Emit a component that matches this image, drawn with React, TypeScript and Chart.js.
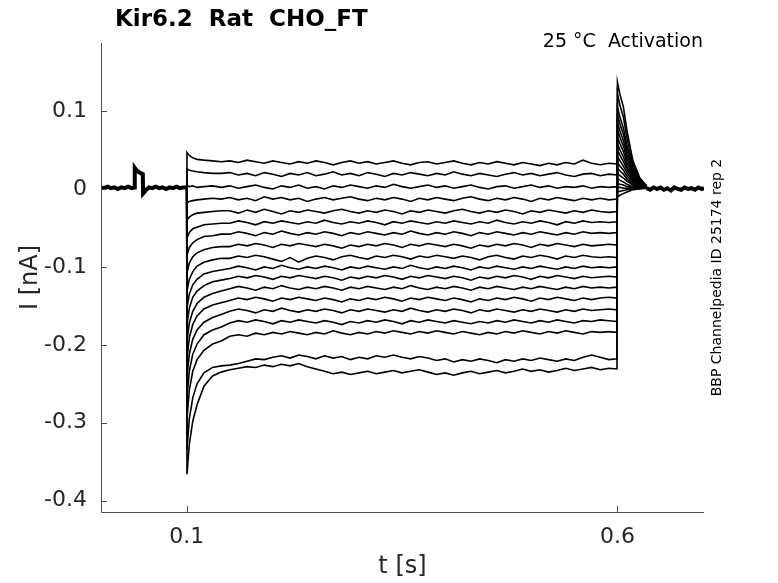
import React, { useEffect, useRef } from 'react';
import { Chart, registerables } from 'chart.js';

Chart.register(...registerables);

// ---- axis / tick data ----
const xTickValues = [0.1, 0.6];
const xTickLabels = ['0.1', '0.6'];
const yTickValues = [0.1, 0, -0.1, -0.2, -0.3, -0.4];
const yTickLabels = ['0.1', '0', '-0.1', '-0.2', '-0.3', '-0.4'];
const xRange = [0.0005, 0.7005];
const yRange = [-0.4145, 0.1873];

// ---- holding segment (shared by all sweeps) ----
const holdTimes = [0.0005, 0.004, 0.008, 0.012, 0.016, 0.02, 0.024, 0.028, 0.032, 0.036, 0.0395, 0.0397, 0.041, 0.043, 0.045, 0.047, 0.049, 0.0494, 0.051, 0.053, 0.056, 0.06, 0.064, 0.068, 0.072, 0.076, 0.08, 0.084, 0.088, 0.092, 0.096, 0.1];
const holdValues = [0.002, 0.001, 0.003, 0.001, 0.002, 0.0, 0.002, 0.001, 0.003, 0.001, 0.002, 0.027, 0.025, 0.023, 0.021, 0.02, 0.019, -0.006, -0.004, -0.001, 0.002, 0.001, 0.003, 0.001, 0.002, 0.0, 0.002, 0.001, 0.003, 0.001, 0.002, 0.002];

// ---- after-tail segment (shared) ----
const postTimes = [0.634, 0.638, 0.642, 0.646, 0.65, 0.654, 0.658, 0.662, 0.666, 0.67, 0.674, 0.678, 0.682, 0.686, 0.69, 0.694, 0.698, 0.7005];
const postValues = [0.001, -0.001, 0.002, 0.0, 0.002, -0.001, 0.001, -0.002, 0.002, 0.0, -0.001, 0.002, 0.0, 0.001, -0.001, 0.002, 0.0, 0.001];

// ---- step sweeps ----
const transientTimes = [0.1, 0.1003, 0.103, 0.107, 0.112, 0.12, 0.13, 0.14];
const steadyTimes = [
  0.15, 0.16, 0.17, 0.18, 0.19, 0.2, 0.21, 0.22, 0.23, 0.24, 0.25, 0.26, 0.27, 0.28, 0.29,
  0.3, 0.31, 0.32, 0.33, 0.34, 0.35, 0.36, 0.37, 0.38, 0.39, 0.4, 0.41, 0.42, 0.43, 0.44,
  0.45, 0.46, 0.47, 0.48, 0.49, 0.5, 0.51, 0.52, 0.53, 0.54, 0.55, 0.56, 0.57, 0.58, 0.59, 0.5995,
];
const tailTimes = [0.6, 0.603, 0.607, 0.611, 0.618, 0.626, 0.634];

const transientValues = [
  [0.001, 0.047, 0.043, 0.04, 0.038, 0.037, 0.036, 0.035],
  [0.001, 0.026, 0.024, 0.023, 0.022, 0.021, 0.02, 0.02],
  [0.001, 0.004, 0.003, 0.004, 0.002, 0.003, 0.004, 0.002],
  [0.001, -0.018, -0.016, -0.015, -0.014, -0.013, -0.012, -0.013],
  [0.001, -0.04, -0.036, -0.033, -0.031, -0.03, -0.029, -0.028],
  [0.001, -0.063, -0.056, -0.051, -0.049, -0.046, -0.045, -0.044],
  [0.001, -0.085, -0.075, -0.069, -0.065, -0.061, -0.06, -0.058],
  [0.001, -0.108, -0.095, -0.087, -0.082, -0.078, -0.075, -0.074],
  [0.001, -0.131, -0.116, -0.106, -0.099, -0.094, -0.091, -0.089],
  [0.001, -0.153, -0.135, -0.123, -0.116, -0.109, -0.106, -0.104],
  [0.001, -0.174, -0.153, -0.139, -0.131, -0.124, -0.119, -0.117],
  [0.001, -0.196, -0.172, -0.157, -0.147, -0.139, -0.134, -0.131],
  [0.001, -0.218, -0.191, -0.174, -0.163, -0.154, -0.149, -0.146],
  [0.001, -0.242, -0.212, -0.193, -0.181, -0.171, -0.165, -0.161],
  [0.001, -0.267, -0.234, -0.212, -0.199, -0.187, -0.181, -0.177],
  [0.001, -0.295, -0.258, -0.234, -0.219, -0.207, -0.199, -0.195],
  [0.001, -0.335, -0.295, -0.268, -0.25, -0.236, -0.229, -0.227],
  [0.001, -0.366, -0.328, -0.298, -0.277, -0.253, -0.24, -0.235],
];

const steadyValues = [
  [0.036, 0.034, 0.037, 0.035, 0.033, 0.036, 0.034, 0.032, 0.035, 0.033, 0.036, 0.034, 0.031, 0.034, 0.036,
   0.033, 0.035, 0.032, 0.034, 0.036, 0.033, 0.031, 0.034, 0.035, 0.032, 0.034, 0.036, 0.033, 0.031, 0.034,
   0.032, 0.035, 0.033, 0.031, 0.034, 0.032, 0.03, 0.033, 0.031, 0.034, 0.032, 0.037, 0.033, 0.031, 0.033, 0.032],
  [0.021, 0.018, 0.02, 0.017, 0.021, 0.019, 0.016, 0.02, 0.018, 0.021, 0.017, 0.019, 0.022, 0.018, 0.02,
   0.017, 0.021, 0.019, 0.016, 0.02, 0.018, 0.021, 0.019, 0.017, 0.02, 0.018, 0.022, 0.019, 0.017, 0.02,
   0.018, 0.016, 0.019, 0.021, 0.018, 0.02, 0.017, 0.019, 0.021, 0.018, 0.016, 0.019, 0.02, 0.017, 0.019, 0.018],
  [0.004, 0.001, 0.003, 0.005, 0.002, 0.0, 0.004, 0.002, 0.005, 0.001, 0.003, 0.0, 0.004, 0.002, 0.005,
   0.003, 0.001, 0.004, 0.002, 0.006, 0.003, 0.001, 0.003, 0.005, 0.002, 0.004, 0.001, 0.003, 0.005, 0.002,
   0.0, 0.003, 0.004, 0.001, 0.003, 0.005, 0.002, 0.004, 0.001, 0.003, 0.002, 0.004, 0.001, 0.003, 0.002, 0.003],
  [-0.011, -0.014, -0.012, -0.015, -0.01, -0.013, -0.011, -0.014, -0.012, -0.016, -0.013, -0.011, -0.014, -0.012, -0.01,
   -0.013, -0.015, -0.012, -0.014, -0.011, -0.013, -0.016, -0.012, -0.014, -0.011, -0.013, -0.015, -0.012, -0.01, -0.013,
   -0.015, -0.012, -0.014, -0.011, -0.013, -0.016, -0.012, -0.014, -0.011, -0.013, -0.015, -0.012, -0.014, -0.012, -0.014, -0.013],
  [-0.028, -0.031, -0.027, -0.03, -0.026, -0.029, -0.032, -0.028, -0.03, -0.027, -0.029, -0.031, -0.028, -0.026, -0.029,
   -0.031, -0.028, -0.03, -0.027, -0.029, -0.032, -0.028, -0.03, -0.027, -0.029, -0.031, -0.028, -0.026, -0.029, -0.031,
   -0.028, -0.03, -0.027, -0.029, -0.032, -0.028, -0.03, -0.027, -0.029, -0.031, -0.028, -0.03, -0.027, -0.029, -0.03, -0.029],
  [-0.044, -0.041, -0.043, -0.046, -0.042, -0.044, -0.041, -0.043, -0.045, -0.042, -0.044, -0.04, -0.043, -0.045, -0.042,
   -0.044, -0.041, -0.043, -0.046, -0.042, -0.044, -0.041, -0.043, -0.045, -0.042, -0.044, -0.041, -0.043, -0.045, -0.042,
   -0.044, -0.04, -0.043, -0.045, -0.042, -0.044, -0.041, -0.043, -0.046, -0.042, -0.044, -0.041, -0.043, -0.042, -0.043, -0.042],
  [-0.058, -0.055, -0.057, -0.06, -0.056, -0.058, -0.054, -0.057, -0.059, -0.056, -0.058, -0.055, -0.057, -0.06, -0.056,
   -0.058, -0.055, -0.057, -0.059, -0.056, -0.058, -0.054, -0.057, -0.059, -0.056, -0.058, -0.055, -0.057, -0.06, -0.056,
   -0.058, -0.055, -0.057, -0.059, -0.056, -0.058, -0.055, -0.057, -0.059, -0.056, -0.058, -0.055, -0.057, -0.056, -0.057, -0.056],
  [-0.074, -0.071, -0.073, -0.07, -0.072, -0.075, -0.071, -0.073, -0.07, -0.072, -0.074, -0.071, -0.073, -0.076, -0.072,
   -0.074, -0.071, -0.073, -0.07, -0.072, -0.075, -0.071, -0.073, -0.07, -0.072, -0.074, -0.071, -0.073, -0.076, -0.072,
   -0.074, -0.071, -0.073, -0.07, -0.072, -0.075, -0.071, -0.073, -0.07, -0.072, -0.074, -0.071, -0.073, -0.072, -0.071, -0.072],
  [-0.089, -0.086, -0.088, -0.085, -0.087, -0.09, -0.093, -0.088, -0.094, -0.089, -0.086, -0.088, -0.091, -0.087, -0.085,
   -0.088, -0.09, -0.086, -0.088, -0.085, -0.087, -0.09, -0.086, -0.088, -0.085, -0.087, -0.089, -0.086, -0.088, -0.091,
   -0.087, -0.085, -0.088, -0.09, -0.086, -0.088, -0.085, -0.087, -0.09, -0.086, -0.088, -0.085, -0.087, -0.088, -0.087, -0.088],
  [-0.102, -0.099, -0.101, -0.104, -0.1, -0.102, -0.098, -0.101, -0.103, -0.1, -0.102, -0.099, -0.101, -0.104, -0.1,
   -0.102, -0.099, -0.101, -0.103, -0.1, -0.102, -0.098, -0.101, -0.103, -0.1, -0.102, -0.099, -0.101, -0.104, -0.1,
   -0.102, -0.099, -0.101, -0.103, -0.1, -0.102, -0.099, -0.101, -0.103, -0.1, -0.102, -0.099, -0.101, -0.1, -0.101, -0.1],
  [-0.115, -0.112, -0.114, -0.111, -0.113, -0.116, -0.112, -0.114, -0.111, -0.113, -0.115, -0.112, -0.114, -0.117, -0.113,
   -0.115, -0.112, -0.114, -0.111, -0.113, -0.116, -0.112, -0.114, -0.111, -0.113, -0.115, -0.112, -0.114, -0.117, -0.113,
   -0.115, -0.112, -0.114, -0.111, -0.113, -0.116, -0.112, -0.114, -0.111, -0.113, -0.115, -0.112, -0.114, -0.113, -0.112, -0.113],
  [-0.128, -0.125, -0.127, -0.13, -0.126, -0.128, -0.124, -0.127, -0.129, -0.126, -0.128, -0.125, -0.127, -0.13, -0.126,
   -0.128, -0.125, -0.127, -0.129, -0.126, -0.128, -0.124, -0.127, -0.129, -0.126, -0.128, -0.125, -0.127, -0.13, -0.126,
   -0.128, -0.125, -0.127, -0.129, -0.126, -0.128, -0.125, -0.127, -0.129, -0.126, -0.128, -0.125, -0.127, -0.126, -0.127, -0.126],
  [-0.143, -0.14, -0.142, -0.139, -0.141, -0.144, -0.14, -0.142, -0.139, -0.141, -0.143, -0.14, -0.142, -0.145, -0.141,
   -0.143, -0.14, -0.142, -0.139, -0.141, -0.144, -0.14, -0.142, -0.139, -0.141, -0.143, -0.14, -0.142, -0.145, -0.141,
   -0.143, -0.14, -0.142, -0.139, -0.141, -0.144, -0.14, -0.142, -0.139, -0.141, -0.143, -0.14, -0.142, -0.14, -0.139, -0.14],
  [-0.157, -0.154, -0.156, -0.159, -0.155, -0.157, -0.153, -0.156, -0.158, -0.155, -0.157, -0.154, -0.156, -0.159, -0.155,
   -0.157, -0.154, -0.156, -0.158, -0.155, -0.157, -0.153, -0.156, -0.158, -0.155, -0.157, -0.154, -0.156, -0.159, -0.155,
   -0.157, -0.154, -0.156, -0.158, -0.155, -0.157, -0.154, -0.156, -0.158, -0.155, -0.157, -0.154, -0.156, -0.155, -0.154, -0.155],
  [-0.172, -0.169, -0.171, -0.168, -0.17, -0.173, -0.169, -0.171, -0.168, -0.17, -0.172, -0.169, -0.171, -0.174, -0.17,
   -0.172, -0.169, -0.171, -0.168, -0.17, -0.173, -0.169, -0.171, -0.168, -0.17, -0.172, -0.169, -0.171, -0.173, -0.17,
   -0.172, -0.169, -0.171, -0.168, -0.17, -0.172, -0.169, -0.171, -0.168, -0.17, -0.172, -0.169, -0.17, -0.168, -0.169, -0.17],
  [-0.189, -0.187, -0.189, -0.185, -0.187, -0.184, -0.186, -0.183, -0.185, -0.187, -0.184, -0.186, -0.182, -0.185, -0.187,
   -0.184, -0.186, -0.183, -0.185, -0.182, -0.184, -0.186, -0.183, -0.185, -0.182, -0.184, -0.186, -0.183, -0.185, -0.187,
   -0.184, -0.186, -0.183, -0.185, -0.182, -0.184, -0.186, -0.183, -0.185, -0.182, -0.184, -0.186, -0.183, -0.184, -0.183, -0.184],
  [-0.226, -0.224, -0.221, -0.218, -0.219, -0.216, -0.214, -0.217, -0.213, -0.215, -0.218, -0.214, -0.217, -0.215, -0.219,
   -0.216, -0.218, -0.214, -0.216, -0.213, -0.216, -0.218, -0.215, -0.217, -0.22, -0.218, -0.222, -0.219, -0.221, -0.218,
   -0.22, -0.223, -0.219, -0.221, -0.218, -0.22, -0.217, -0.219, -0.221, -0.218, -0.22, -0.216, -0.213, -0.216, -0.219, -0.218],
  [-0.232, -0.23, -0.228, -0.229, -0.226, -0.228, -0.225, -0.227, -0.224, -0.228, -0.231, -0.234, -0.237, -0.235, -0.238,
   -0.236, -0.234, -0.237, -0.235, -0.233, -0.236, -0.234, -0.232, -0.235, -0.238, -0.236, -0.239, -0.236, -0.234, -0.237,
   -0.235, -0.233, -0.236, -0.234, -0.231, -0.234, -0.232, -0.235, -0.233, -0.23, -0.233, -0.231, -0.229, -0.232, -0.23, -0.231],
];

const tailValues = [
  [-0.01, -0.008, -0.006, -0.004, -0.001, 0.0, 0.001],
  [-0.004, -0.003, -0.002, -0.001, 0.0, 0.001, 0.001],
  [0.002, 0.002, 0.001, 0.001, 0.001, 0.001, 0.001],
  [0.007, 0.006, 0.005, 0.003, 0.002, 0.001, 0.001],
  [0.013, 0.011, 0.009, 0.006, 0.003, 0.002, 0.001],
  [0.02, 0.017, 0.014, 0.01, 0.005, 0.002, 0.001],
  [0.027, 0.023, 0.019, 0.013, 0.006, 0.003, 0.001],
  [0.034, 0.029, 0.024, 0.017, 0.008, 0.003, 0.001],
  [0.042, 0.036, 0.029, 0.021, 0.01, 0.004, 0.001],
  [0.05, 0.043, 0.035, 0.025, 0.012, 0.004, 0.001],
  [0.058, 0.05, 0.041, 0.029, 0.014, 0.005, 0.001],
  [0.067, 0.058, 0.048, 0.034, 0.016, 0.006, 0.001],
  [0.076, 0.066, 0.055, 0.039, 0.019, 0.007, 0.002],
  [0.085, 0.074, 0.062, 0.044, 0.021, 0.008, 0.002],
  [0.095, 0.083, 0.07, 0.05, 0.024, 0.009, 0.002],
  [0.105, 0.092, 0.078, 0.056, 0.027, 0.01, 0.003],
  [0.122, 0.107, 0.092, 0.066, 0.031, 0.012, 0.003],
  [0.137, 0.121, 0.105, 0.075, 0.036, 0.014, 0.004],
];

const titleText = 'Kir6.2  Rat  CHO_FT';
const noteText = '25 °C  Activation';
const xTitle = 't [s]';
const yTitle = 'I [nA]';
const sideText = 'BBP Channelpedia ID 25174 rep 2';

const FONT = '"DejaVu Sans", "Liberation Sans", sans-serif';
const W = 778;
const H = 583;

function pts(times: number[], values: number[]) {
  const n = Math.min(times.length, values.length);
  const out: { x: number; y: number }[] = [];
  for (let i = 0; i < n; i++) out.push({ x: times[i], y: values[i] });
  return out;
}

const decorPlugin = {
  id: 'decor',
  afterDraw(chart: any) {
    const { ctx, chartArea: a, scales } = chart;
    const xs = scales.x;
    const ys = scales.y;
    ctx.save();
    // axes and inward ticks
    ctx.strokeStyle = '#4d4d4d';
    ctx.lineWidth = 1;
    ctx.beginPath();
    ctx.moveTo(a.left + 0.5, a.top);
    ctx.lineTo(a.left + 0.5, a.bottom + 0.5);
    ctx.lineTo(a.right, a.bottom + 0.5);
    xTickValues.forEach((v) => {
      const px = Math.round(xs.getPixelForValue(v)) + 0.5;
      ctx.moveTo(px, a.bottom);
      ctx.lineTo(px, a.bottom - 6);
    });
    yTickValues.forEach((v) => {
      const py = Math.round(ys.getPixelForValue(v)) + 0.5;
      ctx.moveTo(a.left, py);
      ctx.lineTo(a.left + 6, py);
    });
    ctx.stroke();

    // title
    ctx.fillStyle = '#000';
    ctx.font = `bold 23px ${FONT}`;
    ctx.textAlign = 'left';
    ctx.textBaseline = 'alphabetic';
    ctx.fillText(titleText, 115, 26);

    // note
    ctx.font = `19px ${FONT}`;
    ctx.textAlign = 'right';
    ctx.fillText(noteText, 703, 47);

    // x title
    ctx.fillStyle = '#262626';
    ctx.font = `24px ${FONT}`;
    ctx.textAlign = 'center';
    ctx.textBaseline = 'middle';
    ctx.fillText(xTitle, (a.left + a.right) / 2, 567);

    // y title
    ctx.save();
    ctx.translate(31, (a.top + a.bottom) / 2);
    ctx.rotate(-Math.PI / 2);
    ctx.fillText(yTitle, 0, 0);
    ctx.restore();

    // side text
    ctx.save();
    ctx.fillStyle = '#000';
    ctx.font = `14px ${FONT}`;
    ctx.translate(717, (a.top + a.bottom) / 2);
    ctx.rotate(-Math.PI / 2);
    ctx.textAlign = 'center';
    ctx.textBaseline = 'middle';
    ctx.fillText(sideText, 0, 0);
    ctx.restore();

    ctx.restore();
  },
};

export default function App() {
  const ref = useRef<HTMLCanvasElement | null>(null);

  useEffect(() => {
    document.body.style.margin = '0';
    const canvas = ref.current;
    if (!canvas) return;

    const sweepSets = transientValues.map((tv, i) => ({
      data: [
        ...pts(transientTimes, tv),
        ...pts(steadyTimes, steadyValues[i]),
        ...pts(tailTimes, tailValues[i]),
      ],
      borderColor: '#000',
      borderWidth: 1.6,
      pointRadius: 0,
      tension: 0,
      fill: false,
    }));

    const datasets: any[] = [
      { data: pts(holdTimes, holdValues), borderColor: '#000', borderWidth: 4, pointRadius: 0, fill: false },
      ...sweepSets,
      { data: pts(postTimes, postValues), borderColor: '#000', borderWidth: 4, pointRadius: 0, fill: false },
    ];

    const chart = new Chart(canvas, {
      type: 'line',
      data: { datasets },
      options: {
        animation: false,
        responsive: false,
        devicePixelRatio: 1,
        parsing: false as any,
        normalized: true,
        layout: { padding: { top: 43, right: 74, bottom: 0, left: 0 } },
        plugins: { legend: { display: false }, tooltip: { enabled: false }, title: { display: false } },
        scales: {
          x: {
            type: 'linear',
            min: xRange[0],
            max: xRange[1],
            grid: { display: false },
            border: { display: false },
            afterFit: (s: any) => { s.height = 71; },
            afterBuildTicks: (s: any) => { s.ticks = xTickValues.map((v) => ({ value: v })); },
            ticks: {
              autoSkip: false,
              maxRotation: 0,
              padding: 4,
              color: '#262626',
              font: { family: FONT, size: 22 },
              callback: (v: any) => {
                const i = xTickValues.findIndex((t) => Math.abs(t - Number(v)) < 1e-9);
                return i >= 0 ? xTickLabels[i] : '';
              },
            },
          },
          y: {
            type: 'linear',
            min: yRange[0],
            max: yRange[1],
            grid: { display: false },
            border: { display: false },
            afterFit: (s: any) => { s.width = 101; },
            afterBuildTicks: (s: any) => { s.ticks = yTickValues.map((v) => ({ value: v })); },
            ticks: {
              autoSkip: false,
              padding: 6,
              color: '#262626',
              font: { family: FONT, size: 22 },
              callback: (v: any) => {
                const i = yTickValues.findIndex((t) => Math.abs(t - Number(v)) < 1e-9);
                return i >= 0 ? yTickLabels[i] : '';
              },
            },
          },
        },
      },
      plugins: [decorPlugin],
    });

    return () => chart.destroy();
  }, []);

  return (
    <div style={{ position: 'absolute', left: 0, top: 0, width: W, height: H, background: '#fff' }}>
      <canvas ref={ref} width={W} height={H} style={{ width: W, height: H, display: 'block' }} />
    </div>
  );
}
